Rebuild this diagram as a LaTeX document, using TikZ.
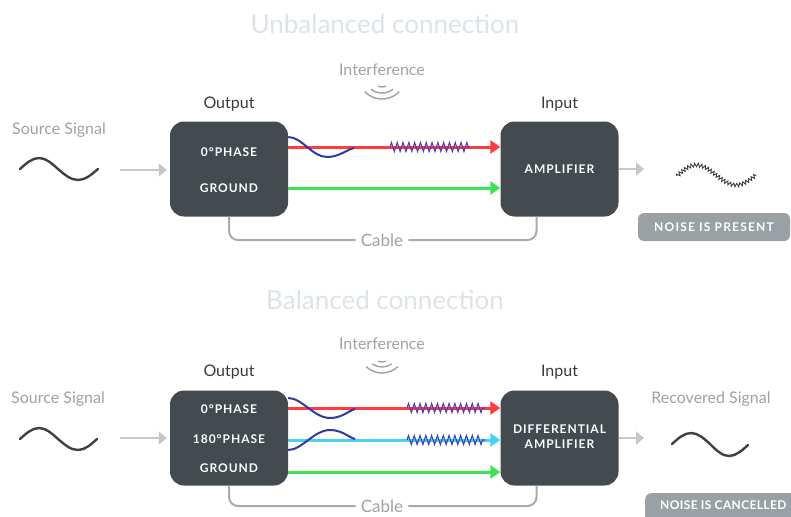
\documentclass[tikz,border=0pt]{standalone}
\usepackage{fontspec}
\setmainfont{Lato}
\newfontfamily\capsfont{Lato}[LetterSpace=8]
\newfontfamily\badgefont{Lato}[LetterSpace=10]
\newfontfamily\narrowbadgefont{Lato}[LetterSpace=3]
\usetikzlibrary{arrows.meta,decorations.pathmorphing}
\definecolor{boxc}{HTML}{434B50}
\definecolor{titlec}{HTML}{DCE3E9}
\definecolor{greyt}{HTML}{9CA2A6}
\definecolor{darkt}{HTML}{353C40}
\definecolor{redw}{HTML}{FF3B3B}
\definecolor{greenw}{HTML}{3DE350}
\definecolor{cyanw}{HTML}{45D2F5}
\definecolor{bluew}{HTML}{2E3A9E}
\definecolor{zigred}{HTML}{5A3CA8}
\definecolor{zigcyan}{HTML}{3644B4}
\definecolor{arrowg}{HTML}{C3C8CC}
\definecolor{cablec}{HTML}{A6ABAE}
\definecolor{badgec}{HTML}{9AA1A5}
\definecolor{wavec}{HTML}{3A4246}
\tikzset{
  blk/.style={fill=boxc, rounded corners=14pt, minimum width=118pt, minimum height=95pt, inner sep=0pt},
  lbl/.style={text=white, font=\capsfont\bfseries\fontsize{12}{14}\selectfont, inner sep=1pt},
  titletext/.style={text=titlec, font=\fontsize{26}{30}\selectfont},
  greytext/.style={text=greyt, font=\fontsize{16}{18}\selectfont},
  headtext/.style={text=darkt, font=\fontsize{16}{18}\selectfont},
  wire/.style={line width=3pt},
  tip/.style={-{Triangle[length=10pt,width=13pt]}},
  zig/.style={line width=1.1pt, decorate, decoration={zigzag, amplitude=4.5pt, segment length=5.8pt}},
  twist/.style={bluew, line width=2pt},
  garrow/.style={arrowg, line width=2pt, -{Triangle[length=8pt,width=13pt]}},
  cable/.style={cablec, line width=2pt, rounded corners=9pt},
  cabletext/.style={text=greyt, font=\fontsize{17}{19}\selectfont, inner xsep=5pt, inner ysep=0pt},
  wave/.style={wavec, line width=2.4pt, line cap=round},
  noisy/.style={wavec, line width=0.9pt, decorate, decoration={zigzag, amplitude=1.8pt, segment length=3.4pt}},
  badge/.style={fill=badgec, text=white, rounded corners=6pt, font=\badgefont\bfseries\fontsize{12}{14}\selectfont},
  waves/.style={greyt, line width=1.4pt}
}
\begin{document}
\begin{tikzpicture}[x=1pt,y=1pt]
\clip (0,0) rectangle (791,-516);
\useasboundingbox (0,0) rectangle (791,-516);

% ================= Unbalanced =================
\node[titletext] (t1) at (385,-24) {Unbalanced connection};
\node[greytext] (if1) at (382,-70) {Interference};
\coordinate (ic1) at (382,-75);
\draw[waves] ([shift={(250:12)}]ic1) arc[start angle=250, end angle=290, radius=12];
\draw[waves] ([shift={(232:18)}]ic1) arc[start angle=232, end angle=308, radius=18];
\draw[waves] ([shift={(224:24)}]ic1) arc[start angle=224, end angle=316, radius=24];

\node[greytext] (ss1) at (59,-130) {Source Signal};
\draw[wave] (20,-169) sin (39,-158) cos (58,-169) sin (78,-180) cos (98,-169);
\coordinate (s1) at (120,-170);

\node[headtext] (oh1) at (229,-104) {Output};
\node[blk] (out1) at (229,-169) {};
\node[lbl] (p01) at (229,-152) {0°PHASE};
\node[lbl] (g1) at (229,-188) {GROUND};

\node[headtext] (ih1) at (559.5,-104) {Input};
\node[blk] (in1) at (559.5,-169) {};
\node[lbl] (amp1) at (559.5,-169) {AMPLIFIER};

\draw[garrow, shorten >=3pt] (s1) -- (out1.west |- s1);

\draw[wire, redw, tip] (out1.east |- 0,-147) -- (in1.west |- 0,-147);
\draw[wire, greenw, tip] (out1.east |- 0,-188) -- (in1.west |- 0,-188);
\draw[twist] (out1.east |- 0,-137) .. controls (302,-137) and (312,-157) .. (327,-157) .. controls (339,-157) and (346,-150) .. (354,-148);
\draw[zig, zigred] (390,-147) -- (470,-147);

\node[cabletext] (cab1) at (382,-240) {Cable};
\draw[cable] (out1.south) |- (cab1.west);
\draw[cable] (cab1.east) -| ([xshift=-23pt]in1.south);

\coordinate (o1) at (644,-169);
\draw[garrow] (in1.east |- o1) -- (o1);
\draw[noisy] (677,-176) sin (696,-165) cos (716,-175) sin (736,-185) cos (756,-175);
\node[badge, minimum width=152pt, minimum height=28pt] (b1) at (714,-227) {NOISE IS PRESENT};

% ================= Balanced =================
\node[titletext] (t2) at (385,-300) {Balanced connection};
\node[greytext] (if2) at (382,-344) {Interference};
\coordinate (ic2) at (382,-350);
\draw[waves] ([shift={(250:12)}]ic2) arc[start angle=250, end angle=290, radius=12];
\draw[waves] ([shift={(235:17)}]ic2) arc[start angle=235, end angle=305, radius=17];
\draw[waves] ([shift={(226:23)}]ic2) arc[start angle=226, end angle=314, radius=23];

\node[greytext] (ss2) at (58,-399) {Source Signal};
\draw[wave] (20,-439) sin (39,-428) cos (58,-439) sin (78,-450) cos (97,-439);
\coordinate (s2) at (120,-438);

\node[headtext] (oh2) at (229,-372) {Output};
\node[blk] (out2) at (229,-438) {};
\node[lbl] (p02) at (229,-409) {0°PHASE};
\node[lbl] (p18) at (229,-439) {180°PHASE};
\node[lbl] (g2) at (229,-468) {GROUND};

\node[headtext] (ih2) at (559.5,-372) {Input};
\node[blk] (in2) at (559.5,-438) {};
\node[lbl, align=center] (amp2) at (559.5,-437) {DIFFERENTIAL\\[1pt]AMPLIFIER};

\draw[garrow, shorten >=3pt] (s2) -- (out2.west |- s2);

\draw[wire, redw, tip] (out2.east |- 0,-408) -- (in2.west |- 0,-408);
\draw[wire, cyanw, tip] (out2.east |- 0,-440) -- (in2.west |- 0,-440);
\draw[wire, greenw, tip] (out2.east |- 0,-472) -- (in2.west |- 0,-472);
\draw[twist] (out2.east |- 0,-398) .. controls (302,-398) and (314,-418) .. (330,-418) .. controls (342,-418) and (348,-411) .. (355,-409);
\draw[twist] (out2.east |- 0,-450) .. controls (302,-450) and (314,-430) .. (330,-430) .. controls (342,-430) and (348,-437) .. (355,-439);
\draw[zig, zigred] (407,-408) -- (485,-408);
\draw[zig, zigcyan] (407,-440) -- (485,-440);

\node[cabletext] (cab2) at (382,-506) {Cable};
\draw[cable] (out2.south) |- (cab2.west);
\draw[cable] (cab2.east) -| ([xshift=-23pt]in2.south);

\coordinate (o2) at (644,-438);
\draw[garrow] (in2.east |- o2) -- (o2);
\node[greytext] (rs) at (711,-399) {Recovered Signal};
\draw[wave] (672,-444) sin (691,-433) cos (710,-444) sin (729,-456) cos (748,-445);
\node[badge, anchor=north west, minimum width=160pt, minimum height=30pt] (b2) at (645,-493) {};
\node[text=white, font=\narrowbadgefont\bfseries\fontsize{12}{14}\selectfont, anchor=west, inner sep=0pt] (b2t) at (660,-505) {NOISE IS CANCELLED};
\end{tikzpicture}
\end{document}
